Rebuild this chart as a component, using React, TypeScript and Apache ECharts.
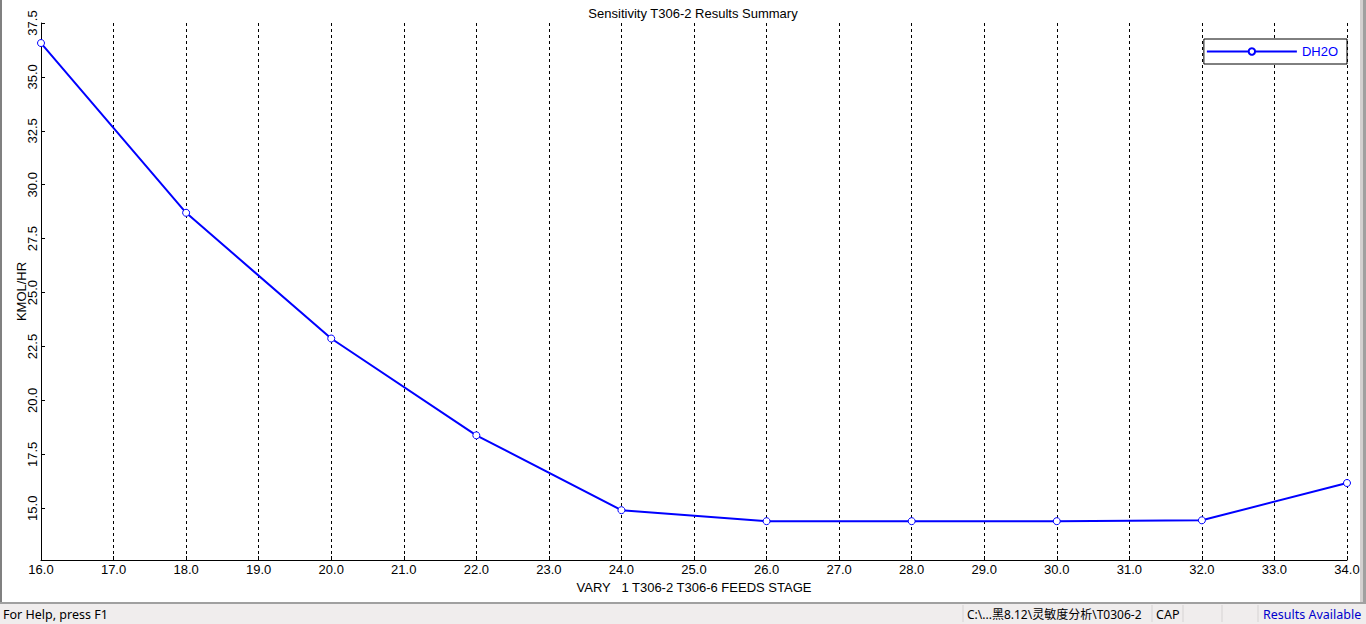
import React, { useEffect, useRef } from "react";
import * as echarts from "echarts";

const xValues = [16, 18, 20, 22, 24, 26, 28, 30, 32, 34];
const dh2o = [36.57, 28.7, 22.87, 18.38, 14.91, 14.4, 14.4, 14.4, 14.44, 16.17];
const yTicks = [15, 17.5, 20, 22.5, 25, 27.5, 30, 32.5, 35, 37.5];
const seriesName = "DH2O";
const titleText = "Sensitivity T306-2 Results Summary";
const xName = "VARY   1 T306-2 T306-6 FEEDS STAGE";
const yName = "KMOL/HR";
const statusHelp = "For Help, press F1";
const statusPath = "C:\\...黑8.12\\灵敏度分析\\T0306-2";
const statusCap = "CAP";
const statusResults = "Results Available";

const FONT = "'Liberation Sans', Arial, sans-serif";
const UI_FONT = "'Noto Sans', 'Noto Sans CJK SC', sans-serif";
const FS = 13;

export default function App() {
  const ref = useRef<HTMLDivElement>(null);
  useEffect(() => {
    if (!ref.current) return;
    const chart = echarts.init(ref.current, undefined, { renderer: "svg" });
    const sep = (x: number) => ({
      type: "line",
      shape: { x1: x, y1: 605, x2: x, y2: 622 },
      style: { stroke: "#d6d3d3", lineWidth: 1 },
      silent: true,
    });
    chart.setOption({
      animation: false,
      backgroundColor: "#ffffff",
      grid: { left: 41, right: 19, top: 23, bottom: 64, containLabel: false },
      legend: {
        right: 19,
        top: 39,
        data: [seriesName],
        orient: "horizontal",
        itemWidth: 90,
        itemHeight: 8,
        padding: [5, 9, 5, 2],
        itemGap: 4,
        borderColor: "#000000",
        borderWidth: 1,
        borderRadius: 0,
        backgroundColor: "#ffffff",
        textStyle: { color: "#0000ff", fontSize: FS, fontFamily: FONT, lineHeight: 15 },
      },
      xAxis: {
        type: "value",
        min: 16,
        max: 34,
        interval: 1,
        name: xName,
        nameLocation: "middle",
        nameGap: 19,
        nameTextStyle: { color: "#000", fontSize: FS, fontFamily: FONT },
        axisLine: { show: true, lineStyle: { color: "#000", width: 1 } },
        axisTick: { show: true, inside: true, length: 4, lineStyle: { color: "#000" } },
        axisLabel: {
          color: "#000",
          fontSize: FS,
          fontFamily: FONT,
          margin: 3,
          formatter: (v: number) => v.toFixed(1),
        },
        splitLine: { show: true, lineStyle: { color: "#000", type: [3, 3], width: 1 } },
      },
      yAxis: {
        type: "value",
        min: 12.6,
        max: 37.5,
        name: yName,
        nameLocation: "middle",
        nameGap: 13,
        nameMoveOverlap: false,
        nameTextStyle: { color: "#000", fontSize: FS, fontFamily: FONT },
        axisLine: { show: true, lineStyle: { color: "#000", width: 1 } },
        axisTick: { show: true, inside: true, length: 4, customValues: yTicks, lineStyle: { color: "#000" } },
        axisLabel: {
          color: "#000",
          fontSize: FS,
          fontFamily: FONT,
          rotate: 90,
          margin: 2,
          customValues: yTicks,
          formatter: (v: number) => v.toFixed(1),
        },
        splitLine: { show: false },
      },
      series: [
        {
          name: seriesName,
          type: "line",
          data: xValues.map((x, i) => [x, dh2o[i]]),
          symbol: "circle",
          symbolSize: 7,
          showAllSymbol: true,
          lineStyle: { color: "#0000ff", width: 2 },
          itemStyle: { color: "#ffffff", borderColor: "#0000ff", borderWidth: 1 },
          emphasis: { disabled: true },
          clip: false,
        },
      ],
      graphic: [
        {
          type: "text",
          x: 693,
          y: 13,
          style: {
            text: titleText,
            fill: "#000",
            font: `${FS}px ${FONT}`,
            textAlign: "center",
            textVerticalAlign: "middle",
          },
          silent: true,
        },
        { type: "rect", shape: { x: 0, y: 0, width: 2, height: 603 }, style: { fill: "#808080" }, silent: true },
        { type: "rect", shape: { x: 1360, y: 0, width: 3, height: 603 }, style: { fill: "#d4d0d0" }, silent: true },
        { type: "rect", shape: { x: 1363, y: 0, width: 3, height: 603 }, style: { fill: "#a0a0a0" }, silent: true },
        { type: "rect", shape: { x: 0, y: 602, width: 1366, height: 2 }, style: { fill: "#a0a0a0" }, silent: true },
        { type: "rect", shape: { x: 0, y: 604, width: 1366, height: 20 }, style: { fill: "#f0eded" }, silent: true },
        sep(963),
        sep(1152),
        sep(1183),
        sep(1222),
        sep(1258),
        {
          type: "text",
          x: 3,
          y: 614,
          style: { text: statusHelp, fill: "#000", font: `12.5px ${UI_FONT}`, textVerticalAlign: "middle" },
          silent: true,
        },
        {
          type: "text",
          x: 967,
          y: 614,
          style: { text: statusPath, fill: "#000", font: `12px ${UI_FONT}`, textVerticalAlign: "middle" },
          silent: true,
        },
        {
          type: "text",
          x: 1156,
          y: 614,
          style: { text: statusCap, fill: "#000", font: `12.5px ${UI_FONT}`, textVerticalAlign: "middle" },
          silent: true,
        },
        {
          type: "text",
          x: 1263,
          y: 614,
          style: { text: statusResults, fill: "#0000cc", font: `12.5px ${UI_FONT}`, textVerticalAlign: "middle" },
          silent: true,
        },
      ],
    });
    return () => chart.dispose();
  }, []);
  return (
    <div
      ref={ref}
      style={{ position: "fixed", left: 0, top: 0, width: 1366, height: 624, background: "#fff" }}
    />
  );
}
